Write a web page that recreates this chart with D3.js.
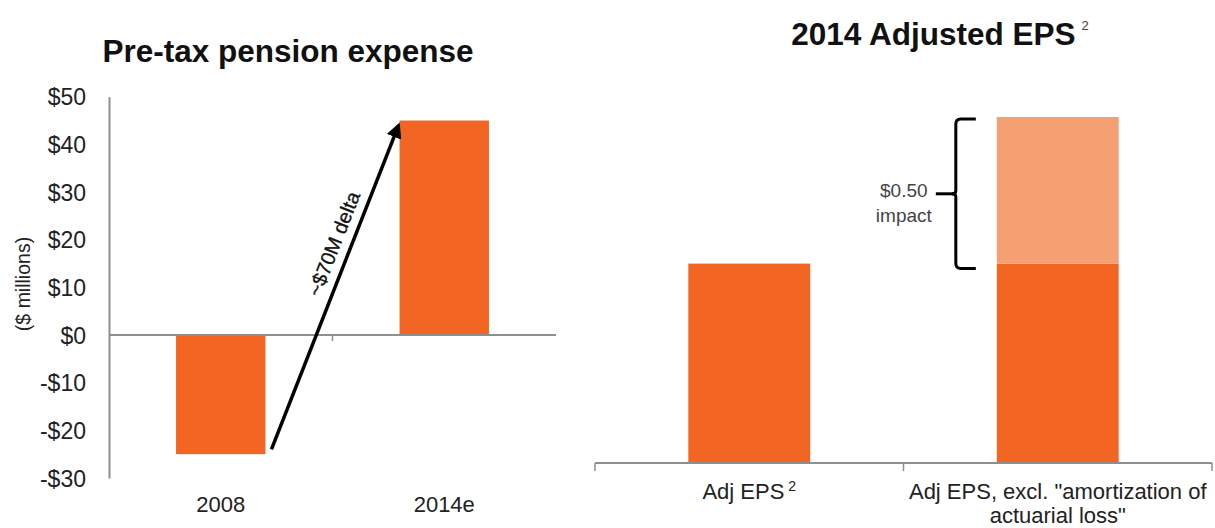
<!DOCTYPE html>
<html>
<head>
<meta charset="utf-8">
<script src="https://cdn.jsdelivr.net/npm/d3@7/dist/d3.min.js"></script>
<style>
  html, body { margin: 0; padding: 0; background: #fff; }
  svg { display: block; font-family: "Liberation Sans", Arial, Helvetica, sans-serif; }
</style>
</head>
<body>
<svg id="chart" width="1215" height="528"></svg>
<script>
// Pre-tax pension expense ($ millions)
const pensionYears = ["2008", "2014e"];
const pensionExpense = [-25, 45];
const pensionTicks = [-30, -20, -10, 0, 10, 20, 30, 40, 50];
const deltaLabel = "~$70M delta";
const deltaFrom = -24;
const deltaTo = 44;

// 2014 Adjusted EPS
const epsCategories = ["Adj EPS", "Adj EPS, excl. \"amortization of actuarial loss\""];
const epsBase = [0.68, 0.68];
const epsImpact = [0, 0.50];
const impactLabel = ["$0.50", "impact"];

const ORANGE = "#F26522";
const LIGHT = "#F5A072";
const AXIS = "#8f8f8f";

const svg = d3.select("#chart");

// ---------- Left panel: pension expense ----------
const left = svg.append("g");

const x1 = d3.scaleBand().domain(pensionYears).range([109, 556]);
const y1 = d3.scaleLinear().domain([-30, 50]).range([478, 96.7]);
const barW1 = x1.bandwidth() * 0.4;

left.append("text")
  .attr("x", 288).attr("y", 62)
  .attr("text-anchor", "middle")
  .attr("font-size", 31.5).attr("font-weight", "bold").attr("fill", "#111")
  .text("Pre-tax pension expense");

// value axis
const yAxis1 = left.append("g")
  .attr("transform", "translate(109,0)")
  .call(d3.axisLeft(y1).tickValues(pensionTicks).tickSize(0).tickPadding(23)
    .tickFormat(d => (d < 0 ? "-$" : "$") + Math.abs(d)));
yAxis1.select(".domain").attr("stroke", AXIS).attr("stroke-width", 2);
yAxis1.selectAll("text").attr("font-size", 23).attr("fill", "#222")
  .attr("font-family", "Liberation Sans, Arial, sans-serif").attr("dy", "0.36em");

left.append("text")
  .attr("transform", "translate(30,284) rotate(-90)")
  .attr("text-anchor", "middle")
  .attr("font-size", 19.5).attr("fill", "#222")
  .text("($ millions)");

// bars
left.selectAll("rect.bar")
  .data(pensionExpense)
  .join("rect")
  .attr("class", "bar")
  .attr("x", (d, i) => x1(pensionYears[i]) + (x1.bandwidth() - barW1) / 2)
  .attr("width", barW1)
  .attr("y", d => y1(Math.max(0, d)))
  .attr("height", d => Math.abs(y1(d) - y1(0)))
  .attr("fill", ORANGE);

// zero line with the category divider tick
left.append("line")
  .attr("x1", x1.range()[0]).attr("x2", x1.range()[1])
  .attr("y1", y1(0)).attr("y2", y1(0))
  .attr("stroke", AXIS).attr("stroke-width", 2);
left.append("line")
  .attr("x1", x1(pensionYears[1])).attr("x2", x1(pensionYears[1]))
  .attr("y1", y1(0)).attr("y2", y1(0) + 6)
  .attr("stroke", AXIS).attr("stroke-width", 1.5);

// category labels
const xAxis1 = left.append("g")
  .attr("transform", `translate(0,${y1(-30)})`)
  .call(d3.axisBottom(x1).tickSize(0).tickPadding(18));
xAxis1.select(".domain").remove();
xAxis1.selectAll("text").attr("font-size", 22).attr("fill", "#222")
  .attr("font-family", "Liberation Sans, Arial, sans-serif");

// delta arrow
const defs = svg.append("defs");
defs.append("marker")
  .attr("id", "arrowHead")
  .attr("viewBox", "0 0 10 10")
  .attr("refX", 8).attr("refY", 5)
  .attr("markerWidth", 4.4).attr("markerHeight", 4.4)
  .attr("orient", "auto")
  .append("path").attr("d", "M0,0 L10,5 L0,10 Z").attr("fill", "#000");

const ax0 = x1(pensionYears[0]) + (x1.bandwidth() + barW1) / 2 + 6;
const ay0 = y1(deltaFrom);
const ax1 = x1(pensionYears[1]) + (x1.bandwidth() - barW1) / 2 - 1;
const ay1 = y1(deltaTo);
left.append("line")
  .attr("x1", ax0).attr("y1", ay0).attr("x2", ax1).attr("y2", ay1)
  .attr("stroke", "#000").attr("stroke-width", 3.5)
  .attr("marker-end", "url(#arrowHead)");

const ang = Math.atan2(ay1 - ay0, ax1 - ax0) * 180 / Math.PI;
const mx = (ax0 + ax1) / 2, my = (ay0 + ay1) / 2;
left.append("text")
  .attr("transform", `translate(${mx},${my}) rotate(${ang}) translate(40,-10)`)
  .attr("text-anchor", "middle")
  .attr("font-size", 20).attr("fill", "#111")
  .attr("stroke", "#111").attr("stroke-width", 0.3)
  .text(deltaLabel);

// ---------- Right panel: adjusted EPS ----------
const right = svg.append("g");

const x2 = d3.scaleBand().domain(epsCategories).range([595, 1212]);
const y2 = d3.scaleLinear().domain([0, 1.18]).range([463, 117]);
const barW2 = x2.bandwidth() * 0.395;

const title2 = right.append("text")
  .attr("x", 940).attr("y", 45)
  .attr("text-anchor", "middle")
  .attr("font-size", 31.5).attr("font-weight", "bold").attr("fill", "#111");
title2.append("tspan").text("2014 Adjusted EPS");
title2.append("tspan").attr("dx", 6).attr("dy", -15).attr("font-size", 13)
  .attr("font-weight", "normal").attr("fill", "#444").text("2");

const epsData = epsCategories.map((c, i) => ({ c, base: epsBase[i], impact: epsImpact[i] }));
const bx = d => x2(d.c) + (x2.bandwidth() - barW2) / 2;

right.selectAll("rect.base")
  .data(epsData)
  .join("rect")
  .attr("class", "base")
  .attr("x", bx).attr("width", barW2)
  .attr("y", d => y2(d.base))
  .attr("height", d => y2(0) - y2(d.base))
  .attr("fill", ORANGE);

right.selectAll("rect.impact")
  .data(epsData.filter(d => d.impact > 0))
  .join("rect")
  .attr("class", "impact")
  .attr("x", bx).attr("width", barW2)
  .attr("y", d => y2(d.base + d.impact))
  .attr("height", d => y2(d.base) - y2(d.base + d.impact))
  .attr("fill", LIGHT);

// category axis with dividers
const xAxis2 = right.append("g")
  .attr("transform", `translate(0,${y2(0)})`);
xAxis2.append("line")
  .attr("x1", x2.range()[0]).attr("x2", x2.range()[1])
  .attr("stroke", AXIS).attr("stroke-width", 2);
xAxis2.selectAll("line.div")
  .data([x2.range()[0], x2(epsCategories[1]), x2.range()[1]])
  .join("line").attr("class", "div")
  .attr("x1", d => d).attr("x2", d => d)
  .attr("y1", 0).attr("y2", 8)
  .attr("stroke", AXIS).attr("stroke-width", 1.5);

const labels2 = right.append("g")
  .attr("transform", `translate(0,${y2(0)})`)
  .call(d3.axisBottom(x2).tickSize(0).tickPadding(0).tickFormat(""));
labels2.select(".domain").remove();
labels2.selectAll(".tick text").remove();
labels2.selectAll(".tick").each(function (d, i) {
  const t = d3.select(this).append("text")
    .attr("text-anchor", "middle")
    .attr("font-size", 22).attr("fill", "#222")
    .attr("font-family", "Liberation Sans, Arial, sans-serif");
  if (i === 0) {
    t.attr("y", 36);
    t.append("tspan").text("Adj EPS");
    t.append("tspan").attr("dx", 4).attr("dy", -8).attr("font-size", 14).text("2");
  } else {
    t.append("tspan").attr("x", 0).attr("y", 36).text("Adj EPS, excl. \"amortization of");
    t.append("tspan").attr("x", 0).attr("y", 60).text("actuarial loss\"");
  }
});

// brace marking the impact portion
const impactBar = epsData[1];
const bLeft = bx(impactBar);
const bTop = y2(impactBar.base + impactBar.impact) + 2;
const bBot = y2(impactBar.base) + 5;
const bMid = (bTop + bBot) / 2;
const vx = bLeft - 41, hx = bLeft - 21, r = 5;
const brace = d3.path();
brace.moveTo(hx, bTop);
brace.lineTo(vx + r, bTop);
brace.quadraticCurveTo(vx, bTop, vx, bTop + r);
brace.lineTo(vx, bMid - 3);
brace.quadraticCurveTo(vx, bMid, vx - 4, bMid);
brace.quadraticCurveTo(vx, bMid, vx, bMid + 3);
brace.lineTo(vx, bBot - r);
brace.quadraticCurveTo(vx, bBot, vx + r, bBot);
brace.lineTo(hx, bBot);
right.append("path").attr("d", brace.toString())
  .attr("fill", "none").attr("stroke", "#000").attr("stroke-width", 3);
right.append("line")
  .attr("x1", vx - 20).attr("x2", vx).attr("y1", bMid).attr("y2", bMid)
  .attr("stroke", "#000").attr("stroke-width", 3);

right.append("text")
  .attr("x", vx - 52).attr("y", bMid + 3)
  .attr("text-anchor", "middle").attr("font-size", 19).attr("fill", "#444")
  .selectAll("tspan").data(impactLabel).join("tspan")
  .attr("x", vx - 52).attr("dy", (d, i) => i === 0 ? 0 : 25)
  .text(d => d);
</script>
</body>
</html>
